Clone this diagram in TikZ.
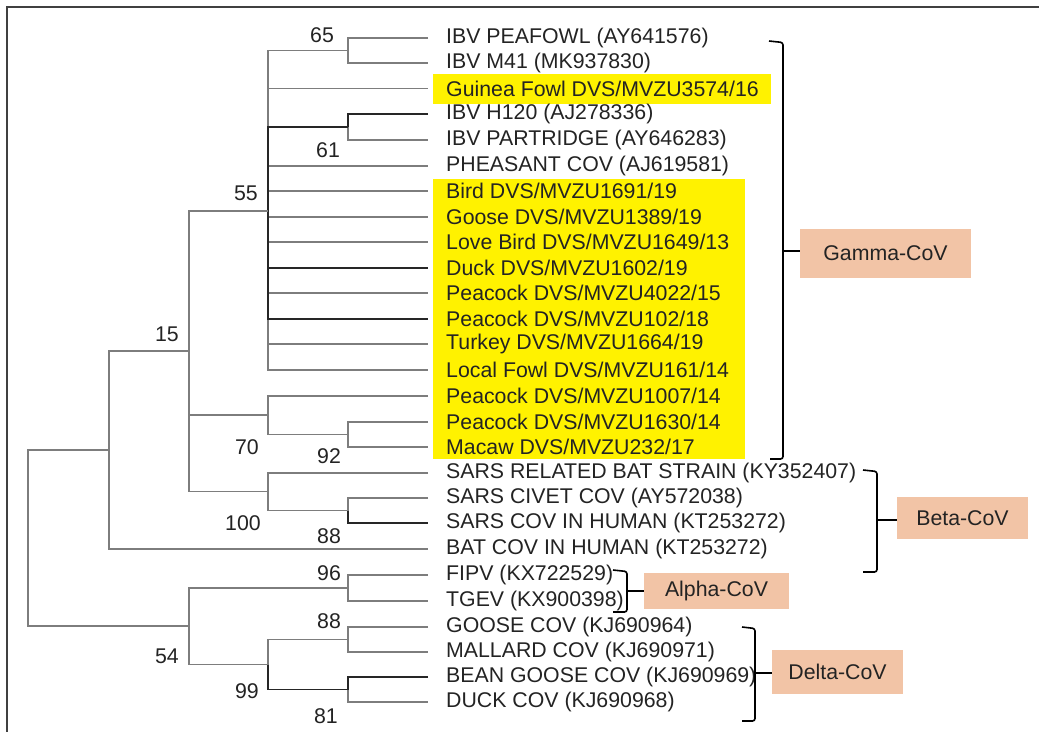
\documentclass[tikz,border=0pt]{standalone}
\usepackage{fontspec}
\setmainfont{Liberation Sans}
\definecolor{giallo}{RGB}{255,242,0}
\definecolor{salmone}{RGB}{242,196,166}
\definecolor{grigio}{RGB}{125,125,125}
\definecolor{testo}{RGB}{35,35,35}
\begin{document}
\begin{tikzpicture}[x=1pt,y=-1pt,
  every node/.append style={font=\fontsize{21.3}{25}\selectfont},
  foglia/.style={anchor=west,inner xsep=18pt,inner ysep=0pt,text=testo},
  ramo/.style={draw=grigio,line width=1.3pt},
  scuro/.style={draw=black!85,line width=1.3pt},
  boot/.style={text=testo,inner sep=0pt},
  clade/.style={fill=salmone,text=testo,inner sep=0pt},
  parentesi/.style={draw=black,line width=1.6pt,rounded corners=2.5pt}]
  \useasboundingbox (0,0) rectangle (1039,732);

  % cornice
  \draw[black!75,line width=1.5pt] (1039,7) -- (7,7) -- (7,732);

  % evidenziazione
  \fill[giallo] (433,74) rectangle (771,104);
  \fill[giallo] (433,179) rectangle (745,459);

  % foglie
  \node[foglia] (l1) at (428,38) {IBV PEAFOWL (AY641576)};
  \node[foglia] (l2) at (428,63) {IBV M41 (MK937830)};
  \node[foglia] (l3) at (428,88.5) {Guinea Fowl DVS/MVZU3574/16};
  \node[foglia] (l4) at (428,114) {IBV H120 (AJ278336)};
  \node[foglia] (l5) at (428,140) {IBV PARTRIDGE (AY646283)};
  \node[foglia] (l6) at (428,166) {PHEASANT COV (AJ619581)};
  \node[foglia] (l7) at (428,191) {Bird DVS/MVZU1691/19};
  \node[foglia] (l8) at (428,217) {Goose DVS/MVZU1389/19};
  \node[foglia] (l9) at (428,242) {Love Bird DVS/MVZU1649/13};
  \node[foglia] (l10) at (428,268) {Duck DVS/MVZU1602/19};
  \node[foglia] (l11) at (428,293) {Peacock DVS/MVZU4022/15};
  \node[foglia] (l12) at (428,319) {Peacock DVS/MVZU102/18};
  \node[foglia] (l13) at (428,344) {Turkey DVS/MVZU1664/19};
  \node[foglia] (l14) at (428,370) {Local Fowl DVS/MVZU161/14};
  \node[foglia] (l15) at (428,396) {Peacock DVS/MVZU1007/14};
  \node[foglia] (l16) at (428,422) {Peacock DVS/MVZU1630/14};
  \node[foglia] (l17) at (428,447) {Macaw DVS/MVZU232/17};
  \node[foglia] (l18) at (428,473) {SARS RELATED BAT STRAIN (KY352407)};
  \node[foglia] (l19) at (428,498) {SARS CIVET COV (AY572038)};
  \node[foglia] (l20) at (428,523) {SARS COV IN HUMAN (KT253272)};
  \node[foglia] (l21) at (428,549) {BAT COV IN HUMAN (KT253272)};
  \node[foglia] (l22) at (428,575) {FIPV (KX722529)};
  \node[foglia] (l23) at (428,601) {TGEV (KX900398)};
  \node[foglia] (l24) at (428,627) {GOOSE COV (KJ690964)};
  \node[foglia] (l25) at (428,652) {MALLARD COV (KJ690971)};
  \node[foglia] (l26) at (428,677) {BEAN GOOSE COV (KJ690969)};
  \node[foglia] (l27) at (428,702) {DUCK COV (KJ690968)};

  % nodi interni
  \coordinate (n65) at (348,50.5);
  \coordinate (n61) at (348,127);
  \coordinate (n55) at (268,211);
  \coordinate (n92) at (348,434.5);
  \coordinate (n70) at (268,415);
  \coordinate (n88a) at (348,510.5);
  \coordinate (n100) at (268,491.75);
  \coordinate (n15) at (189,351);
  \coordinate (nA) at (109,450);
  \coordinate (n96) at (348,588);
  \coordinate (n88b) at (348,639.5);
  \coordinate (n81) at (348,689.5);
  \coordinate (n99) at (268,664.5);
  \coordinate (n54) at (189,626);
  \coordinate (radice) at (28,538);

  % rami gamma
  \draw[ramo] (l1.west) -| (n65) |- (l2.west);
  \draw[scuro] (l4.west) -| (n61);
  \draw[ramo] (n61) |- (l5.west);
  \draw[ramo] (n55) |- (n65) (n55) |- (l3.west) (n55) |- (l6.west)
    (n55) |- (l7.west) (n55) |- (l8.west) (n55) |- (l9.west)
    (n55) |- (l11.west) (n55) |- (l13.west) (n55) |- (l14.west);
  \draw[scuro] (n55) |- (n61) (n55) |- (l10.west) (n55) |- (l12.west);
  \draw[ramo] (l16.west) -| (n92) |- (l17.west);
  \draw[ramo] (l15.west) -| (n70) |- (n92);

  % rami beta
  \draw[ramo] (l19.west) -| (n88a);
  \draw[scuro] (n88a) |- (l20.west);
  \draw[ramo] (l18.west) -| (n100) |- (n88a);
  \draw[ramo] (n15) |- (n55) (n15) |- (n70) (n15) |- (n100);
  \draw[ramo] (n15) -| (nA) |- (l21.west);

  % rami alpha e delta
  \draw[ramo] (l22.west) -| (n96) |- (l23.west);
  \draw[ramo] (l24.west) -| (n88b) |- (l25.west);
  \draw[scuro] (l26.west) -| (n81);
  \draw[ramo] (n81) |- (l27.west);
  \draw[ramo] (n88b) -| (n99);
  \draw[scuro] (n99) |- (n81);
  \draw[ramo] (n96) -| (n54) |- (n99);

  % radice
  \draw[ramo] (nA) -| (radice) |- (n54);

  % bootstrap
  \node[boot] (b65) at (322,35) {65};
  \node[boot] (b61) at (328,150) {61};
  \node[boot] (b55) at (246,193) {55};
  \node[boot] (b15) at (167,334) {15};
  \node[boot] (b70) at (247,447) {70};
  \node[boot] (b92) at (329,456) {92};
  \node[boot] (b100) at (243,523) {100};
  \node[boot] (b88a) at (329,536) {88};
  \node[boot] (b96) at (329,573) {96};
  \node[boot] (b88b) at (329,621) {88};
  \node[boot] (b54) at (167,656) {54};
  \node[boot] (b99) at (247,691) {99};
  \node[boot] (b81) at (326,716) {81};

  % generi
  \node[clade,minimum width=171pt,minimum height=49pt] (gamma) at (885.5,253.5) {Gamma-CoV};
  \node[clade,minimum width=131pt,minimum height=42pt] (beta) at (962.5,518) {Beta-CoV};
  \node[clade,minimum width=145pt,minimum height=36pt] (alpha) at (716.5,591) {Alpha-CoV};
  \node[clade,minimum width=131pt,minimum height=44pt] (delta) at (837.5,672) {Delta-CoV};

  % parentesi
  \coordinate (pg) at (783,251);
  \coordinate (pb) at (877,520);
  \coordinate (pa) at (627,591);
  \coordinate (pd) at (755,673);
  \draw[parentesi] (769,41) -- (783,42.5) -- (783,459) -- (770,459);
  \draw[parentesi] (pg) -- (pg -| gamma.west);
  \draw[parentesi] (863,470) -- (877,471.5) -- (877,572) -- (863,572);
  \draw[parentesi] (pb) -- (pb -| beta.west);
  \draw[parentesi] (613,570) -- (627,571.5) -- (627,612) -- (613,612);
  \draw[parentesi] (pa) -- (pa -| alpha.west);
  \draw[parentesi] (742,627) -- (755,628.5) -- (755,721) -- (742,721);
  \draw[parentesi] (pd) -- (pd -| delta.west);
\end{tikzpicture}
\end{document}
